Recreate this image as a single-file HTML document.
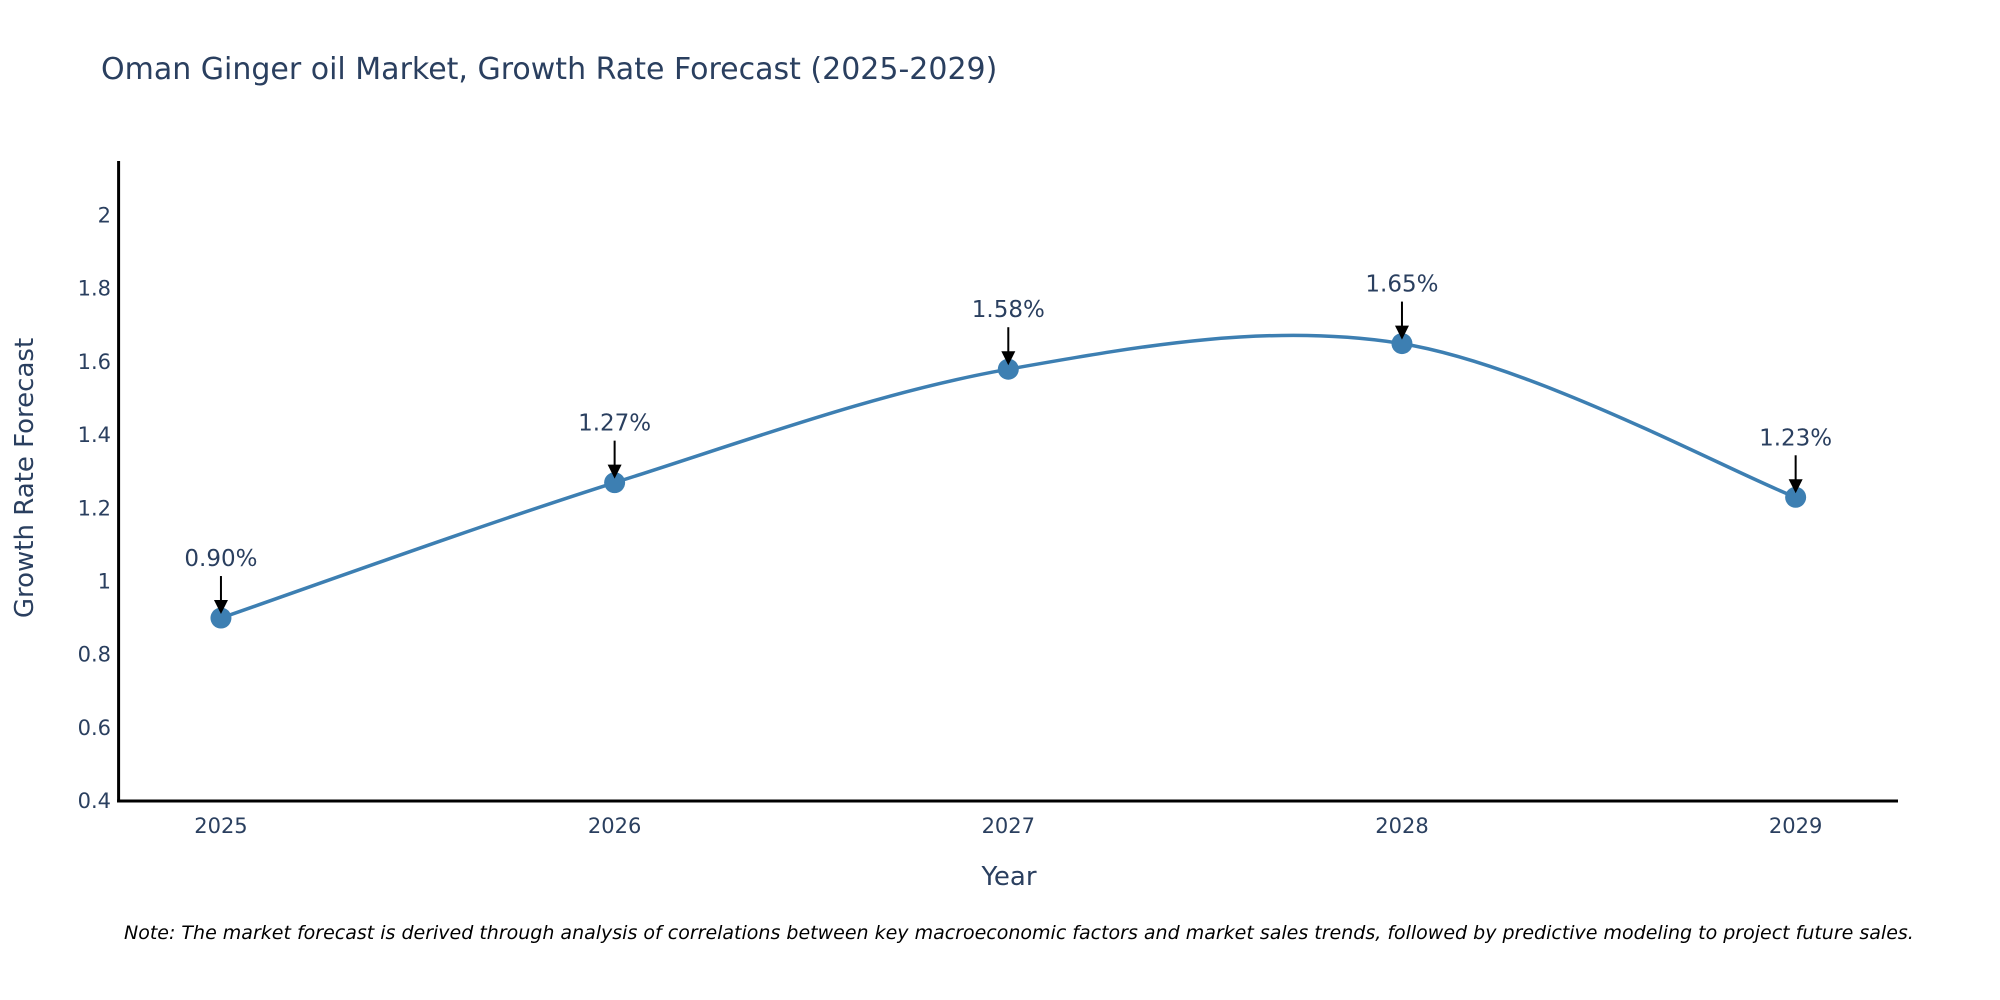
<!DOCTYPE html>
<html><head><meta charset="utf-8"><style>
html,body{margin:0;padding:0;background:#fff;}
svg{display:block;font-family:"DejaVu Sans","Liberation Sans",sans-serif;}
</style></head><body>
<svg id="chart" width="2000" height="1000" viewBox="0 0 2000 1000">
<text x="101" y="79" font-size="30" fill="#2a3f5f">Oman Ginger oil Market, Growth Rate Forecast (2025-2029)</text>
<g id="axes"></g>
<g id="series"></g>
<g id="annots"></g>
<text x="25" y="478" font-size="26" fill="#2a3f5f" text-anchor="middle" transform="rotate(-90 25 478)" dominant-baseline="central">Growth Rate Forecast</text>
<text x="1009" y="885" font-size="26" fill="#2a3f5f" text-anchor="middle">Year</text>
<text x="124" y="939" font-size="19" font-style="italic" fill="#000">Note: The market forecast is derived through analysis of correlations between key macroeconomic factors and market sales trends, followed by predictive modeling to project future sales.</text>
</svg>
<script>
const years = [2025, 2026, 2027, 2028, 2029];
const growth = [0.90, 1.27, 1.58, 1.65, 1.23];
const labels = ["0.90%", "1.27%", "1.58%", "1.65%", "1.23%"];
const yTicks = [0.4, 0.6, 0.8, 1, 1.2, 1.4, 1.6, 1.8, 2];
const yTickLabels = ["0.4", "0.6", "0.8", "1", "1.2", "1.4", "1.6", "1.8", "2"];

const NS = "http://www.w3.org/2000/svg";
const L = 118.6, R = 1898, T = 161, B = 801;
const xMin = 2024.74, xMax = 2029.26, yMin = 0.4, yMax = 2.149;
function xs(v){ return L + (v - xMin) / (xMax - xMin) * (R - L); }
function ys(v){ return B - (v - yMin) / (yMax - yMin) * (B - T); }
function mk(tag, attrs, parent){ const e = document.createElementNS(NS, tag); for (const k in attrs) e.setAttribute(k, attrs[k]); parent.appendChild(e); return e; }

const axes = document.getElementById('axes');
const yAxis = mk('line', {x1:L, y1:T, x2:L, y2:B+1.5, stroke:'#000', 'stroke-width':3}, axes);


const xAxis = mk('line', {x1:L-1.5, y1:B, x2:R, y2:B, stroke:'#000', 'stroke-width':3}, axes);


yTicks.forEach((v, i) => {
  const t = mk('text', {x:111, y:ys(v), 'font-size':21, fill:'#2a3f5f', 'text-anchor':'end', 'dominant-baseline':'central'}, axes);
  t.textContent = yTickLabels[i];
  
  
});
years.forEach(v => {
  const t = mk('text', {x:xs(v), y:833, 'font-size':21, fill:'#2a3f5f', 'text-anchor':'middle'}, axes);
  t.textContent = String(v);
  
  
});

const pts = years.map((y, i) => [xs(y), ys(growth[i])]);
let d = 'M' + pts[0][0] + ',' + pts[0][1];
for (let i = 0; i < pts.length - 1; i++) {
  const p0 = pts[Math.max(i-1,0)], p1 = pts[i], p2 = pts[i+1], p3 = pts[Math.min(i+2, pts.length-1)];
  const c1 = [p1[0] + (p2[0]-p0[0])/6, p1[1] + (p2[1]-p0[1])/6];
  const c2 = [p2[0] - (p3[0]-p1[0])/6, p2[1] - (p3[1]-p1[1])/6];
  d += ' C' + c1[0] + ',' + c1[1] + ' ' + c2[0] + ',' + c2[1] + ' ' + p2[0] + ',' + p2[1];
}
const series = document.getElementById('series');
const line = mk('path', {d:d, fill:'none', stroke:'#3d7fb2', 'stroke-width':3.5}, series);


pts.forEach(p => {
  const c = mk('circle', {cx:p[0], cy:p[1], r:10.5, fill:'#3d7fb2'}, series);
  
  
});

const ann = document.getElementById('annots');
pts.forEach((p, i) => {
  const sh = mk('line', {x1:p[0], y1:p[1]-42, x2:p[0], y2:p[1]-14, stroke:'#000', 'stroke-width':2}, ann);
  
  
  const hd = mk('polygon', {points:(p[0]-7)+','+(p[1]-18)+' '+(p[0]+7)+','+(p[1]-18)+' '+p[0]+','+(p[1]-4), fill:'#000'}, ann);
  
  
  const t = mk('text', {x:p[0], y:p[1]-52, 'font-size':23, fill:'#2a3f5f', 'text-anchor':'middle'}, ann);
  t.textContent = labels[i];
  
  
});
</script>
</body></html>
